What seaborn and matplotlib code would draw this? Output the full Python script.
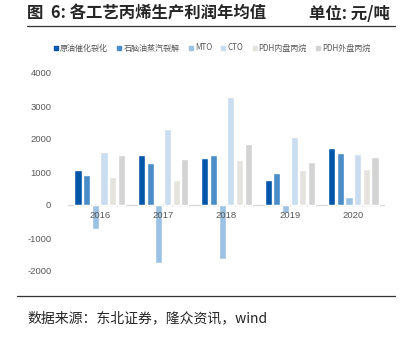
import matplotlib
matplotlib.use("Agg")
import matplotlib.pyplot as plt
import seaborn as sns
import pandas as pd
from matplotlib.lines import Line2D

years = ["2016", "2017", "2018", "2019", "2020"]
series_names = ["原油催化裂化", "石脑油蒸汽裂解", "MTO", "CTO", "PDH内盘丙烷", "PDH外盘丙烷"]
crude_fcc = [1075, 1520, 1410, 745, 1730]
naphtha = [895, 1280, 1530, 955, 1580]
mto = [-725, -1745, -1650, -250, 230]
cto = [1610, 2315, 3260, 2065, 1560]
pdh_domestic = [835, 745, 1350, 1075, 1105]
pdh_foreign = [1520, 1380, 1860, 1300, 1450]
yticks = [-2000, -1000, 0, 1000, 2000, 3000, 4000]

colors = ["#0056A8", "#4A8DC9", "#9CC1E3", "#CADCEF", "#E6E3DE", "#D3D3D3"]

values = [crude_fcc, naphtha, mto, cto, pdh_domestic, pdh_foreign]
rows = []
for name, vals in zip(series_names, values):
    for y, v in zip(years, vals):
        rows.append({"year": y, "series": name, "value": v})
df = pd.DataFrame(rows)

sns.set_theme(style="white")
plt.rcParams["font.family"] = ["Noto Sans CJK SC", "DejaVu Sans"]

fig = plt.figure(figsize=(4.07, 3.37), dpi=100)
ax = fig.add_axes([68 / 407, 1 - 271 / 337, (385 - 68) / 407, (271 - 73) / 337])

sns.barplot(data=df, x="year", y="value", hue="series", hue_order=series_names,
            order=years, palette=colors, width=0.82, gap=0.18, ax=ax, legend=False,
            saturation=1)

ax.set_ylim(-2000, 4000)
ax.set_xlim(-0.5, 4.5)
ax.set_yticks(yticks)
ax.set_yticklabels([str(t) for t in yticks], fontsize=6.8, color="#595959",
                   family=["Liberation Sans", "DejaVu Sans"])
ax.tick_params(axis="y", length=0, pad=12)
ax.set_xticks([])
ax.set_xlabel("")
ax.set_ylabel("")
for s in ax.spines.values():
    s.set_visible(False)
ax.axhline(0, color="#D9D9D9", lw=1.0, zorder=0.5)
for i, y in enumerate(years):
    ax.annotate(y, xy=(i, 0), xytext=(0, -4), textcoords="offset points",
                ha="center", va="top", fontsize=6.8, color="#595959",
                family=["Liberation Sans", "DejaVu Sans"])

handles = [Line2D([], [], marker="s", ls="", color=c, markersize=3.5) for c in colors]
fig.legend(handles, series_names, loc="center", bbox_to_anchor=(0.52, 1 - 48 / 337),
           ncol=6, frameon=False, fontsize=5.8, handletextpad=0.1, columnspacing=1.0,
           handlelength=0.8, labelcolor="#595959")

fig.text(27 / 407, 1 - 14 / 337, "图  6: 各工艺丙烯生产利润年均值", fontsize=11.8,
         fontweight="bold", va="center", ha="left")
fig.text(390 / 407, 1 - 14 / 337, "单位: 元/吨", fontsize=11.8,
         fontweight="bold", va="center", ha="right")
fig.add_artist(Line2D([27 / 407, 395 / 407], [1 - 26 / 337, 1 - 26 / 337],
                      color="#333333", lw=0.9))
fig.add_artist(Line2D([17 / 407, 395 / 407], [1 - 296 / 337, 1 - 296 / 337],
                      color="#333333", lw=0.9))
fig.text(27 / 407, 1 - 318 / 337, "数据来源：东北证券，隆众资讯，wind", fontsize=10,
         va="center", ha="left")

fig.savefig("out.png", dpi=100)
